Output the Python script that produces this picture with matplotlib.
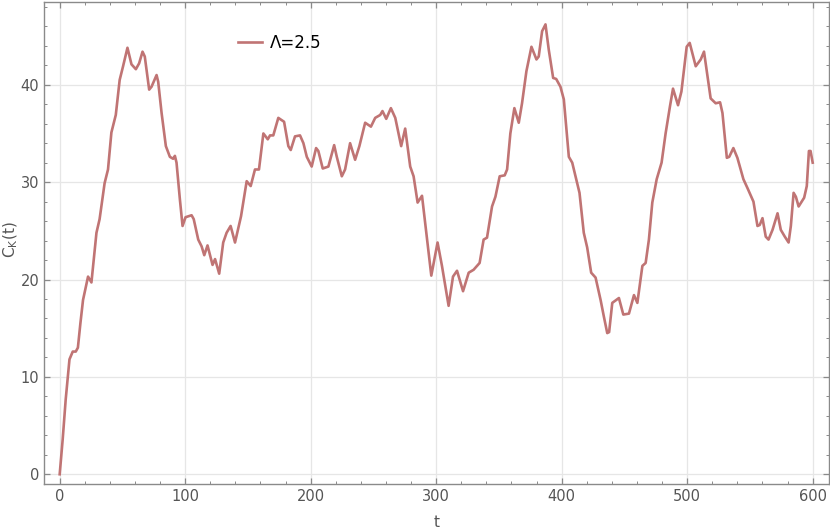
import matplotlib
matplotlib.use('Agg')
import matplotlib.pyplot as plt
from matplotlib.ticker import MultipleLocator

plt.rcParams['font.family'] = ['Liberation Sans Narrow', 'DejaVu Sans']

# values
t = [0, 2.4, 4.8, 7.8, 10.4, 12.8, 14.5, 16.5, 18.6, 22.6, 25.3, 29.3, 31.8, 35.8, 38.5,
     41.2, 44.7, 47.8, 50.5, 54.0, 57.2, 60.7, 63.3, 66.0, 67.8, 71.3, 73.2, 77.2, 78.5,
     81.2, 84.6, 87.8, 90.4, 91.8, 93.1, 95.8, 97.9, 100.3, 105.1, 106.8, 110.4, 113.1,
     115.2, 117.8, 121.8, 123.8, 127.1, 130.3, 133.0, 136.2, 139.7, 144.5, 149.0, 152.2,
     155.6, 158.8, 162.3, 165.8, 167.6, 170.2, 174.2, 178.8, 182.2, 184.1, 187.5, 191.5,
     194.2, 196.9, 200.8, 204.3, 206.1, 209.6, 214.1, 218.7, 220.8, 224.8, 227.4, 231.4,
     235.4, 238.8, 243.4, 248.0, 251.4, 255.4, 257.2, 260.2, 263.9, 267.4, 272.1, 275.3,
     279.3, 282.0, 285.2, 288.7, 292.1, 296.1, 301.1, 304.6, 309.9, 313.4, 316.6, 321.4,
     325.9, 329.8, 334.6, 337.8, 340.5, 344.5, 347.2, 350.6, 354.6, 356.5, 359.1, 362.3,
     365.8, 368.4, 371.9, 375.9, 379.9, 381.7, 384.4, 387.1, 389.7, 393.2, 395.6, 399.0,
     401.7, 405.7, 408.4, 411.0, 414.2, 417.6, 420.3, 423.5, 427.0, 431.0, 433.6, 436.3,
     437.8, 440.3, 445.6, 449.1, 453.6, 457.6, 460.3, 464.3, 466.9, 469.5, 472.2, 475.7,
     479.6, 482.8, 486.3, 488.7, 492.7, 495.4, 499.6, 502.0, 506.8, 510.8, 513.4, 518.7,
     522.7, 526.2, 528.1, 531.6, 533.5, 536.8, 540.0, 544.8, 548.0, 552.8, 556.0, 557.8,
     560.0, 562.6, 564.8, 568.0, 572.0, 574.6, 577.8, 580.8, 582.6, 584.8, 586.6, 588.8,
     593.2, 595.3, 597.0, 598.3, 600.0]
ck = [0, 3.6, 7.7, 11.8, 12.6, 12.6, 13.0, 15.5, 17.9, 20.3, 19.7, 24.8, 26.2, 29.9, 31.3,
      35.1, 36.9, 40.5, 41.9, 43.8, 42.1, 41.6, 42.2, 43.4, 42.9, 39.5, 39.8, 41.0, 40.3,
      37.1, 33.7, 32.6, 32.4, 32.7, 32.0, 28.2, 25.5, 26.4, 26.6, 26.2, 24.1, 23.4,
      22.5, 23.5, 21.5, 22.1, 20.6, 23.8, 24.8, 25.5, 23.8, 26.5, 30.1, 29.6,
      31.3, 31.3, 35.0, 34.4, 34.8, 34.8, 36.6, 36.2, 33.7, 33.3, 34.7, 34.8,
      34.0, 32.6, 31.6, 33.5, 33.2, 31.4, 31.6, 33.8, 32.6, 30.6, 31.3, 34.0,
      32.3, 33.7, 36.1, 35.7, 36.6, 36.9, 37.3, 36.5, 37.6, 36.6, 33.7, 35.5,
      31.6, 30.6, 27.9, 28.6, 24.8, 20.4, 23.8, 21.4, 17.3, 20.3, 20.9, 18.8,
      20.7, 21.0, 21.7, 24.1, 24.3, 27.5, 28.5, 30.6, 30.7, 31.3, 35.0, 37.6,
      36.1, 38.1, 41.4, 43.9, 42.6, 42.9, 45.5, 46.2, 43.6, 40.7, 40.6, 39.8,
      38.5, 32.6, 32.0, 30.6, 28.9, 24.8, 23.3, 20.7, 20.2, 17.9, 16.2, 14.5,
      14.6, 17.6, 18.1, 16.4, 16.5, 18.4, 17.6, 21.4, 21.7, 24.1, 27.9, 30.3,
      32.0, 35.0, 37.8, 39.6, 37.9, 39.3, 43.9, 44.3, 41.9, 42.6, 43.4, 38.6,
      38.1, 38.2, 37.1, 32.5, 32.6, 33.5, 32.5, 30.3, 29.4, 28.0, 25.5, 25.6,
      26.3, 24.4, 24.1, 25.1, 26.8, 25.1, 24.4, 23.8, 25.5, 28.9, 28.5, 27.5,
      28.4, 29.6, 33.2, 33.2, 32.0]

fig = plt.figure(figsize=(8.3, 5.31), dpi=100)
ax = fig.add_axes([44/830, 47/531, 785/830, 482/531])

ax.plot(t, ck, color='#c07474', lw=1.9, label='Λ=2.5', solid_joinstyle='round')

ax.set_xlim(-12.5, 613)
ax.set_ylim(-1.0, 48.5)
ax.xaxis.set_major_locator(MultipleLocator(100))
ax.xaxis.set_minor_locator(MultipleLocator(20))
ax.yaxis.set_major_locator(MultipleLocator(10))
ax.yaxis.set_minor_locator(MultipleLocator(2))
ax.grid(True, which='major', color='#e6e6e6', lw=0.9)
ax.set_axisbelow(True)

for s in ax.spines.values():
    s.set_color('#8a8a8a')
    s.set_linewidth(1.0)
ax.tick_params(which='both', direction='in', top=True, right=True, colors='#8a8a8a',
               labelcolor='#555555', labelsize=10.5)
ax.tick_params(which='major', length=4.5, width=0.9)
ax.tick_params(which='minor', length=2.5, width=0.7)

ax.set_xlabel('t', color='#555555', fontsize=11, labelpad=8)
ax.set_ylabel(r'$\mathregular{C_K(t)}$', color='#555555', fontsize=11)
ax.yaxis.set_label_coords(-0.031, 0.508)

leg = ax.legend(loc='upper left', bbox_to_anchor=(0.228, 0.965), frameon=False,
                fontsize=12, handlelength=1.45, handletextpad=0.45)

fig.savefig('out.png', dpi=100)
